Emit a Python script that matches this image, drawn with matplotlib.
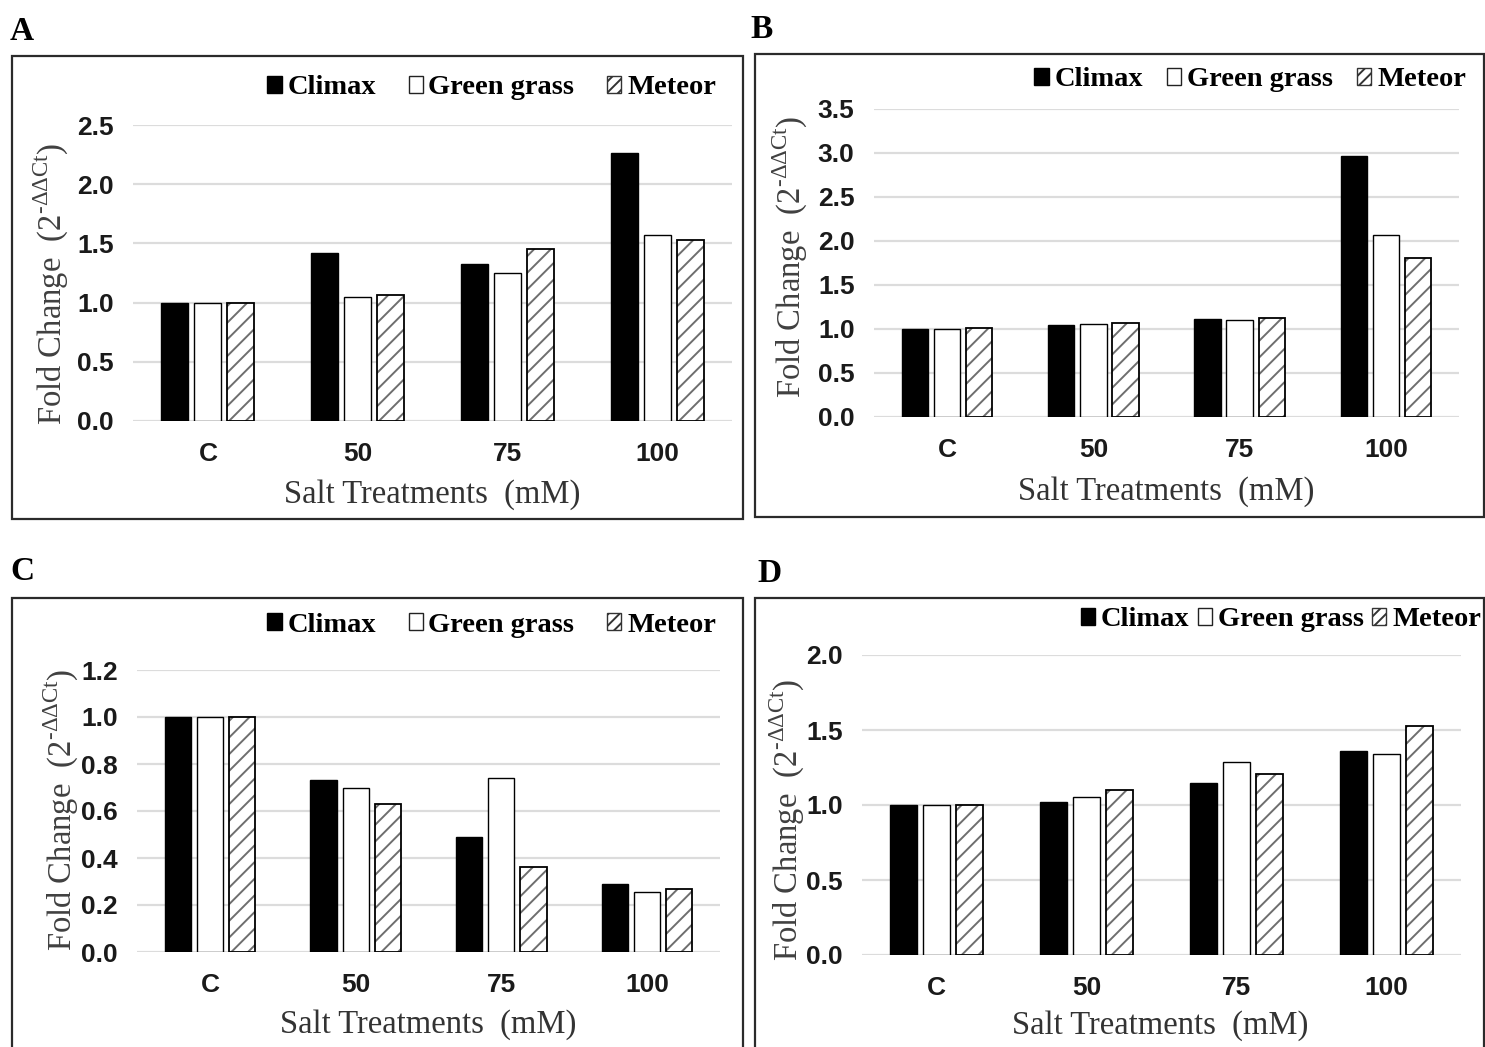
import matplotlib
matplotlib.use('Agg')
import matplotlib.pyplot as plt
from matplotlib.patches import Patch, Rectangle
from matplotlib.font_manager import FontProperties
import numpy as np

# ---------------- data ----------------
categories = ['C', '50', '75', '100']
series_names = ['Climax', 'Green grass', 'Meteor']

a_climax = [1.00, 1.42, 1.33, 2.26]
a_green = [1.00, 1.05, 1.25, 1.57]
a_meteor = [1.00, 1.06, 1.45, 1.53]
a_ticks = [0.0, 0.5, 1.0, 1.5, 2.0, 2.5]

b_climax = [1.00, 1.05, 1.11, 2.97]
b_green = [1.00, 1.06, 1.10, 2.07]
b_meteor = [1.01, 1.07, 1.13, 1.81]
b_ticks = [0.0, 0.5, 1.0, 1.5, 2.0, 2.5, 3.0, 3.5]

c_climax = [1.00, 0.73, 0.49, 0.29]
c_green = [1.00, 0.70, 0.74, 0.255]
c_meteor = [1.00, 0.63, 0.36, 0.27]
c_ticks = [0.0, 0.2, 0.4, 0.6, 0.8, 1.0, 1.2]

d_climax = [1.00, 1.02, 1.15, 1.36]
d_green = [1.00, 1.055, 1.29, 1.34]
d_meteor = [1.00, 1.10, 1.21, 1.53]
d_ticks = [0.0, 0.5, 1.0, 1.5, 2.0]

# ---------------- layout ----------------
W, H = 1485, 1047
plt.rcParams['hatch.linewidth'] = 1.4
plt.rcParams['mathtext.fontset'] = 'custom'
plt.rcParams['mathtext.rm'] = 'Liberation Serif'

fig = plt.figure(figsize=(W / 100, H / 100), dpi=100)
fig.patch.set_facecolor('white')


def fx(x):
    return x / W


def fy(y):
    return 1 - y / H


panels = [
    dict(letter='A', data=(a_climax, a_green, a_meteor), ticks=a_ticks,
         ax=(133, 125, 732, 421), box=(12, 56, 743, 519), lpos=(22, 31),
         ylab=(51, 284), xlab=(432, 495), leg=(716, 88), cs=1.15),
    dict(letter='B', data=(b_climax, b_green, b_meteor), ticks=b_ticks,
         ax=(874, 109, 1459, 417), box=(755, 54, 1484, 517), lpos=(762, 30),
         ylab=(790, 257), xlab=(1166, 492), leg=(1466, 80), cs=0.85),
    dict(letter='C', data=(c_climax, c_green, c_meteor), ticks=c_ticks,
         ax=(137, 670, 720, 952), box=(12, 598, 743, 1060), lpos=(22, 572),
         ylab=(61, 810), xlab=(428, 1025), leg=(716, 625), cs=1.15),
    dict(letter='D', data=(d_climax, d_green, d_meteor), ticks=d_ticks,
         ax=(862, 655, 1461, 955), box=(755, 598, 1484, 1060), lpos=(770, 573),
         ylab=(787, 820), xlab=(1160, 1026), leg=(1481, 620), cs=0.3),
]

tick_font = dict(family='Liberation Sans', weight='bold', size=19)
serif = 'Liberation Serif'
x = np.arange(len(categories))
bw = 0.18
off = 0.22

for p in panels:
    l, t, r, b = p['ax']
    ax = fig.add_axes([fx(l), fy(b), (r - l) / W, (b - t) / H])
    climax, green, meteor = p['data']
    ax.bar(x - off, climax, bw, color='black', edgecolor='black', lw=1, zorder=3)
    ax.bar(x, green, bw, color='white', edgecolor='black', lw=1, zorder=3)
    ax.bar(x + off, meteor, bw, color='white', edgecolor='#6e6e6e', hatch='//', lw=0, zorder=3)
    ax.bar(x + off, meteor, bw, fill=False, edgecolor='black', lw=1.3, zorder=4)

    ax.set_xlim(-0.5, len(categories) - 0.5)
    ax.set_ylim(0, p['ticks'][-1])
    ax.set_yticks(p['ticks'])
    ax.set_yticklabels([f'{v:.1f}' for v in p['ticks']], **tick_font, color='#1a1a1a')
    ax.set_xticks(x)
    ax.set_xticklabels(categories, **tick_font, color='#1a1a1a')
    ax.tick_params(axis='both', length=0)
    ax.tick_params(axis='y', pad=14)
    ax.tick_params(axis='x', pad=15)
    ax.yaxis.grid(True, color='#dcdcdc', lw=1.6, zorder=0)
    ax.set_axisbelow(True)
    for s in ax.spines.values():
        s.set_visible(False)
    ax.patch.set_alpha(0)

    # panel frame
    bl, bt, br, bb = p['box']
    fig.patches.append(Rectangle((fx(bl), fy(bb)), (br - bl) / W, (bb - bt) / H,
                                 transform=fig.transFigure, fill=False,
                                 edgecolor='#2b2b2b', lw=1.6, zorder=0))

    # panel letter
    fig.text(fx(p['lpos'][0]), fy(p['lpos'][1]), p['letter'], family=serif,
             weight='bold', size=24, ha='center', va='center', color='black')

    # axis titles
    fig.text(fx(p['ylab'][0]), fy(p['ylab'][1]),
             'Fold Change  (2$^{\\mathregular{\u2010ΔΔCt}}$)', rotation=90,
             ha='center', va='center', family=serif, size=23.5, color='#404040')
    fig.text(fx(p['xlab'][0]), fy(p['xlab'][1]), 'Salt Treatments  (mM)',
             ha='center', va='center', family=serif, size=23.5, color='#333333')

    # legend
    handles = [Patch(facecolor='black', edgecolor='black', lw=1),
               Patch(facecolor='white', edgecolor='#222222', lw=1),
               Patch(facecolor='white', edgecolor='#333333', hatch='///', lw=1)]
    fig.legend(handles, series_names, loc='center right',
               bbox_to_anchor=(fx(p['leg'][0]), fy(p['leg'][1])),
               ncol=3, frameon=False,
               prop=FontProperties(family=serif, weight='bold', size=20.5),
               handlelength=0.5, handleheight=0.5, handletextpad=0.2,
               columnspacing=p['cs'], borderpad=0, borderaxespad=0)

fig.savefig('out.png', dpi=100, facecolor='white')
